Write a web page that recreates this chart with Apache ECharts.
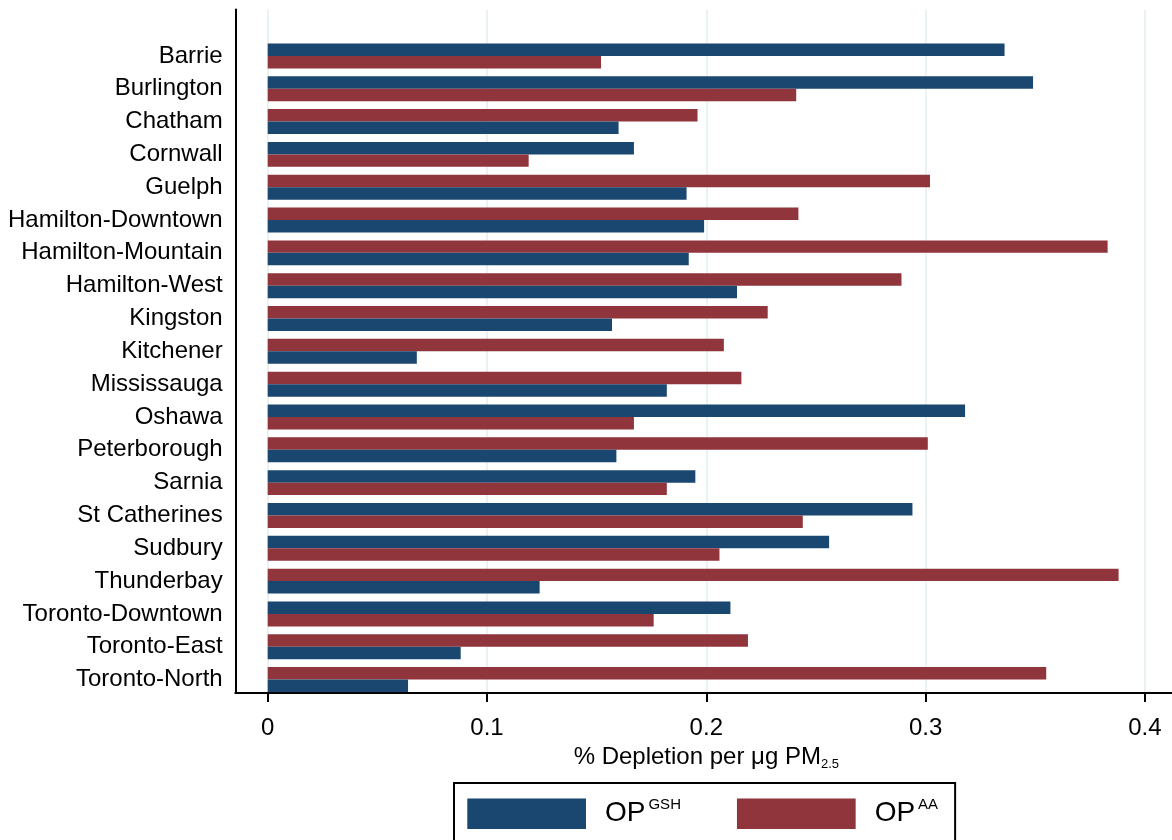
<!DOCTYPE html>
<html>
<head>
<meta charset="utf-8">
<script src="https://cdn.jsdelivr.net/npm/echarts@6/dist/echarts.min.js"></script>
<style>
html,body{margin:0;padding:0;background:#fff;}
#c{width:1172px;height:840px;}
</style>
</head>
<body>
<div id="c"></div>
<script>
const categories = ['Barrie','Burlington','Chatham','Cornwall','Guelph','Hamilton-Downtown','Hamilton-Mountain','Hamilton-West','Kingston','Kitchener','Mississauga','Oshawa','Peterborough','Sarnia','St Catherines','Sudbury','Thunderbay','Toronto-Downtown','Toronto-East','Toronto-North'];
const gsh = [0.336, 0.349, 0.160, 0.167, 0.191, 0.199, 0.192, 0.214, 0.157, 0.068, 0.182, 0.318, 0.159, 0.195, 0.294, 0.256, 0.124, 0.211, 0.088, 0.064];
const aa  = [0.152, 0.241, 0.196, 0.119, 0.302, 0.242, 0.383, 0.289, 0.228, 0.208, 0.216, 0.167, 0.301, 0.182, 0.244, 0.206, 0.388, 0.176, 0.219, 0.355];
const xTicks = [0, 0.1, 0.2, 0.3, 0.4];
const seriesNames = ['GSH', 'AA'];

const FONT = 'Liberation Sans, Arial, sans-serif';
const BLUE = '#1a476f', RED = '#90353b';

// larger value of each pair sits in the upper slot
const hiG = gsh.map((v, i) => v >= aa[i] ? v : '-');
const hiA = aa.map((v, i) => v > gsh[i] ? v : '-');
const loG = gsh.map((v, i) => v < aa[i] ? v : '-');
const loA = aa.map((v, i) => v <= gsh[i] ? v : '-');

const PL = 267.7, PW = 877.2;
const tickStep = xTicks[1] - xTicks[0];

function barSeries(name, stack, data, color) {
  return {
    type: 'bar', name: name, stack: stack, data: data,
    xAxisIndex: 2, yAxisIndex: 2,
    barCategoryGap: '24%', barGap: '0%',
    itemStyle: { color: color, borderWidth: 0 },
    emphasis: { disabled: true },
    animation: false
  };
}

const chart = echarts.init(document.getElementById('c'), null, { renderer: 'canvas' });
chart.setOption({
  animation: false,
  textStyle: { fontFamily: FONT },
  grid: [
    { left: 235.3, right: 0, top: 9.5, height: 683.5 },
    { left: PL, width: PW, top: 9.5, height: 683.5 },
    { left: PL, width: PW, top: 39.5, height: 656.5 }
  ],
  xAxis: [
    { gridIndex: 0, type: 'value', min: 0, max: 1,
      axisLine: { show: true, onZero: false, lineStyle: { color: '#000', width: 2 } },
      axisTick: { show: false }, axisLabel: { show: false }, splitLine: { show: false } },
    { gridIndex: 1, type: 'value', min: xTicks[0], max: xTicks[xTicks.length - 1], interval: tickStep,
      axisLine: { show: false },
      axisTick: { show: true, inside: false, length: 9, lineStyle: { color: '#000', width: 2 } },
      axisLabel: { show: true, margin: 23, fontSize: 24, color: '#000', fontFamily: FONT,
        formatter: v => String(Math.round(v * 10) / 10) },
      splitLine: { show: true, lineStyle: { color: '#eaf2f3', width: 2 } },
      name: '{m|% Depletion per \u03bcg PM}{s|2.5}',
      nameLocation: 'middle', nameGap: 44,
      nameTextStyle: { color: '#000', fontFamily: FONT,
        rich: {
          m: { fontSize: 24, color: '#000', fontFamily: FONT, lineHeight: 28 },
          s: { fontSize: 13, color: '#000', fontFamily: FONT, verticalAlign: 'bottom', lineHeight: 14 }
        } } },
    { gridIndex: 2, type: 'value', min: xTicks[0], max: xTicks[xTicks.length - 1],
      show: false }
  ],
  yAxis: [
    { gridIndex: 0, type: 'value', min: 0, max: 1,
      axisLine: { show: true, onZero: false, lineStyle: { color: '#000', width: 2 } },
      axisTick: { show: false }, axisLabel: { show: false }, splitLine: { show: false } },
    { gridIndex: 1, type: 'value', show: false, splitLine: { show: false } },
    { gridIndex: 2, type: 'category', data: categories, inverse: true,
      axisLine: { show: false }, axisTick: { show: false }, splitLine: { show: false },
      axisLabel: { margin: 45, fontSize: 24, color: '#000', fontFamily: FONT } }
  ],
  legend: {
    data: seriesNames, left: 454, top: 783,
    orient: 'horizontal',
    padding: [14.7, 17, 20, 13.3],
    itemGap: 56,
    itemWidth: 118.7, itemHeight: 30.6,
    icon: 'rect',
    borderColor: '#000', borderWidth: 2,
    selectedMode: false,
    itemStyle: { borderWidth: 0 },
    formatter: n => '{o|OP}{s|' + n + '}',
    textStyle: {
      color: '#000', fontFamily: FONT,
      rich: {
        o: { fontSize: 28, color: '#000', fontFamily: FONT, lineHeight: 32, padding: [0, 0, 0, 14] },
        s: { fontSize: 15, color: '#000', fontFamily: FONT, verticalAlign: 'top', lineHeight: 14, padding: [0, 0, 0, 3] }
      }
    }
  },
  series: [
    barSeries(seriesNames[0], 'hi', hiG, BLUE),
    barSeries(seriesNames[1], 'hi', hiA, RED),
    barSeries(seriesNames[0], 'lo', loG, BLUE),
    barSeries(seriesNames[1], 'lo', loA, RED)
  ]
});
</script>
</body>
</html>
